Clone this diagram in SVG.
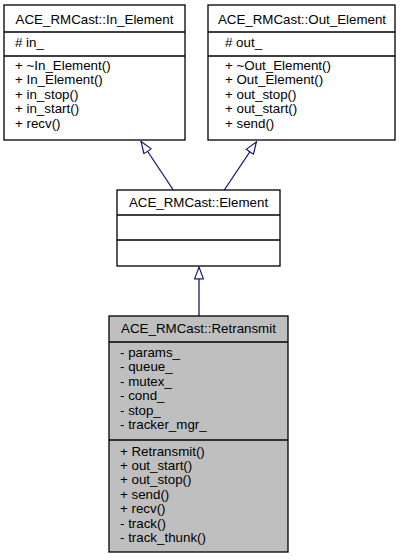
<svg xmlns="http://www.w3.org/2000/svg" width="404" height="560" viewBox="0 0 404 560">
<style>
.box{fill:#ffffff;stroke:#000000;stroke-width:1.3}
.cur{fill:#bfbfbf;stroke:#000000;stroke-width:1.3}
.sep{stroke:#000000;stroke-width:1.3}
text{font-family:"Liberation Sans",Arial,Helvetica,sans-serif;font-size:13.33px;fill:#000000}
.c{text-anchor:middle}
.edge{stroke:#191970;stroke-width:1.3;fill:none;marker-end:url(#hollow)}
</style>
<defs>
<marker id="hollow" viewBox="0 0 13 10" refX="13" refY="5" markerWidth="13" markerHeight="10" markerUnits="userSpaceOnUse" orient="auto">
<path d="M0.6,0.6 L12.4,5 L0.6,9.4 Z" fill="#ffffff" stroke="#191970" stroke-width="1.2"/>
</marker>
</defs>
<rect width="404" height="560" fill="#ffffff"/>
<g id="connectors">
<line class="edge" x1="173.3" y1="190" x2="140.7" y2="141"/>
<line class="edge" x1="224.3" y1="190" x2="256.7" y2="141.5"/>
<line class="edge" x1="199" y1="316" x2="199" y2="266.5"/>
</g>
<g id="In_Element">
<rect class="box" x="4" y="5" width="181" height="135"/>
<line class="sep" x1="4" y1="32" x2="185" y2="32"/>
<line class="sep" x1="4" y1="56" x2="185" y2="56"/>
<text class="c" x="94.5" y="23.5">ACE_RMCast::In_Element</text>
<text x="15" y="47">#  in_</text>
<text x="15" y="70">+ ~In_Element()</text>
<text x="15" y="84.4">+ In_Element()</text>
<text x="15" y="98.8">+ in_stop()</text>
<text x="15" y="113.2">+ in_start()</text>
<text x="15" y="127.6">+ recv()</text>
</g>
<g id="Out_Element">
<rect class="box" x="208" y="5" width="187" height="135"/>
<line class="sep" x1="208" y1="32" x2="395" y2="32"/>
<line class="sep" x1="208" y1="56" x2="395" y2="56"/>
<text class="c" x="302" y="23.5">ACE_RMCast::Out_Element</text>
<text x="225" y="47">#  out_</text>
<text x="225" y="70">+ ~Out_Element()</text>
<text x="225" y="84.4">+ Out_Element()</text>
<text x="225" y="98.8">+ out_stop()</text>
<text x="225" y="113.2">+ out_start()</text>
<text x="225" y="127.6">+ send()</text>
</g>
<g id="Element">
<rect class="box" x="117" y="190" width="163" height="76"/>
<line class="sep" x1="117" y1="215" x2="280" y2="215"/>
<line class="sep" x1="117" y1="240" x2="280" y2="240"/>
<text class="c" x="198.5" y="207">ACE_RMCast::Element</text>
</g>
<g id="Retransmit">
<rect class="cur" x="109" y="316" width="179" height="236"/>
<line class="sep" x1="109" y1="342" x2="288" y2="342"/>
<line class="sep" x1="109" y1="440" x2="288" y2="440"/>
<text class="c" x="198.5" y="333">ACE_RMCast::Retransmit</text>
<text x="120" y="357">- params_</text>
<text x="120" y="371.4">- queue_</text>
<text x="120" y="385.8">- mutex_</text>
<text x="120" y="400.2">- cond_</text>
<text x="120" y="414.6">- stop_</text>
<text x="120" y="429">- tracker_mgr_</text>
<text x="120" y="455.5">+ Retransmit()</text>
<text x="120" y="469.9">+ out_start()</text>
<text x="120" y="484.3">+ out_stop()</text>
<text x="120" y="498.7">+ send()</text>
<text x="120" y="513.1">+ recv()</text>
<text x="120" y="527.5">- track()</text>
<text x="120" y="541.9">- track_thunk()</text>
</g>
</svg>
